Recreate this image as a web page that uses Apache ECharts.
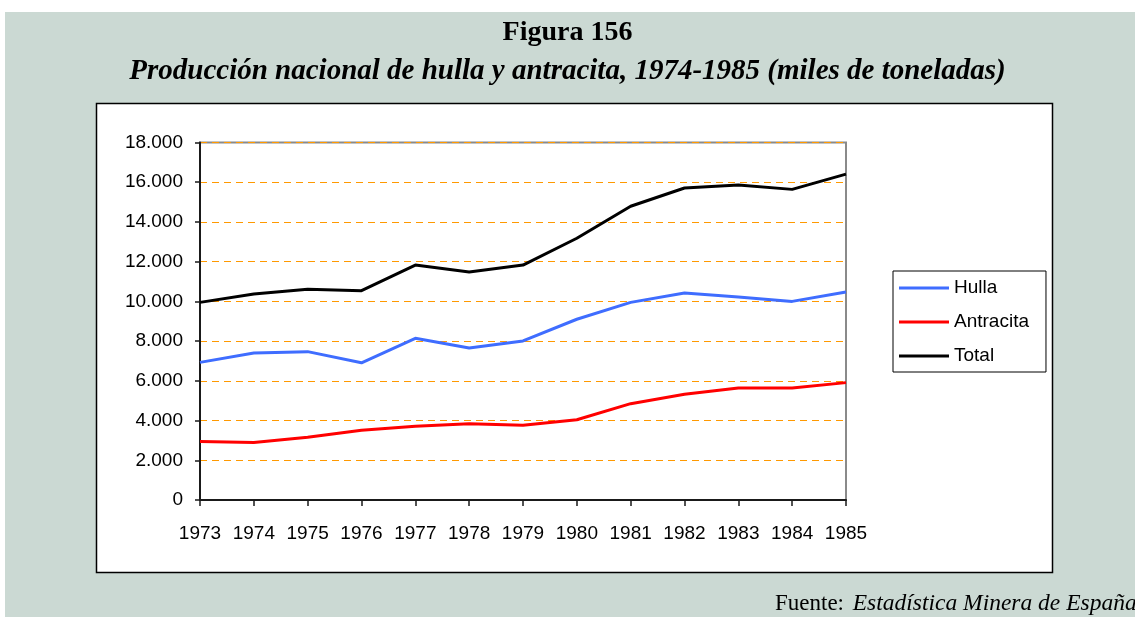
<!DOCTYPE html>
<html>
<head>
<meta charset="utf-8">
<script src="https://cdn.jsdelivr.net/npm/echarts@6/dist/echarts.min.js"></script>
<style>
  html, body { margin: 0; padding: 0; background: #fff; }
  #chart { width: 1135px; height: 617px; }
</style>
</head>
<body>
<div id="chart"></div>
<script>
// datos
var years = ['1973', '1974', '1975', '1976', '1977', '1978', '1979', '1980', '1981', '1982', '1983', '1984', '1985'];
var hulla = [6930, 7400, 7470, 6910, 8140, 7650, 8010, 9100, 9950, 10420, 10220, 10000, 10470];
var antracita = [2950, 2890, 3160, 3510, 3710, 3840, 3760, 4040, 4850, 5320, 5640, 5640, 5910];
var total = [9950, 10370, 10610, 10540, 11830, 11480, 11830, 13180, 14790, 15710, 15860, 15640, 16410];

var chart = echarts.init(document.getElementById('chart'));

function miles(v) {
    return String(v).replace(/\B(?=(\d{3})+(?!\d))/g, '.');
}

var option = {
    backgroundColor: '#fff',
    animation: false,
    graphic: [
        {
            type: 'rect', z: -10,
            shape: { x: 5, y: 12, width: 1130, height: 605 },
            style: { fill: '#cbd9d3' }
        },
        {
            type: 'rect', z: -9,
            shape: { x: 96.5, y: 103.5, width: 956, height: 469 },
            style: { fill: '#fff', stroke: '#000', lineWidth: 1.5 }
        },
        {
            type: 'text', left: 775, top: 592,
            style: {
                text: '{n|Fuente: }{i|Estadística Minera de España}',
                rich: {
                    n: { fontFamily: 'Liberation Serif', fontSize: 23, lineHeight: 23, fill: '#000' },
                    i: { fontFamily: 'Liberation Serif', fontStyle: 'italic', fontSize: 23.5, lineHeight: 23, fill: '#000', padding: [0, 0, 0, 3] }
                }
            }
        }
    ],
    title: [{
        text: 'Figura 156',
        left: 'center',
        top: 14,
        textStyle: { fontFamily: 'Liberation Serif', fontWeight: 'bold', fontSize: 28, color: '#000' }
    }, {
        text: 'Producción nacional de hulla y antracita, 1974-1985 (miles de toneladas)',
        left: 'center',
        top: 52,
        textStyle: { fontFamily: 'Liberation Serif', fontWeight: 'bold', fontStyle: 'italic', fontSize: 29, color: '#000' }
    }],
    legend: {
        orient: 'vertical',
        left: 893,
        top: 271,
        padding: [7, 17, 6, 6],
        backgroundColor: '#fff',
        borderColor: '#000',
        borderWidth: 1,
        icon: 'rect',
        itemWidth: 50,
        itemHeight: 3,
        itemGap: 14,
        textStyle: { fontFamily: 'Liberation Sans', fontSize: 19, lineHeight: 20, color: '#000' },
        data: ['Hulla', 'Antracita', 'Total']
    },
    grid: {
        left: 200,
        right: 289,
        top: 142.5,
        bottom: 117,
        show: true,
        backgroundColor: '#fff',
        borderColor: '#8a8a8a',
        borderWidth: 2
    },
    xAxis: {
        type: 'category',
        boundaryGap: false,
        data: years,
        axisLine: { lineStyle: { color: '#1a1a1a', width: 2 } },
        axisTick: { show: true, inside: false, length: 6, interval: 0, lineStyle: { color: '#1a1a1a', width: 1.5 } },
        axisLabel: { fontFamily: 'Liberation Sans', fontSize: 19, color: '#000', margin: 24, interval: 0, hideOverlap: false },
        splitLine: { show: false }
    },
    yAxis: {
        type: 'value',
        min: 0,
        max: 18000,
        interval: 2000,
        axisLine: { show: true, lineStyle: { color: '#1a1a1a', width: 2 } },
        axisTick: { show: true, inside: false, length: 5, lineStyle: { color: '#1a1a1a', width: 1.5 } },
        axisLabel: { fontFamily: 'Liberation Sans', fontSize: 19, color: '#000', margin: 17, formatter: miles },
        splitLine: { show: true, lineStyle: { color: '#ff9900', width: 1, type: [7, 5] } }
    },
    series: [{
        name: 'Hulla',
        type: 'line',
        data: hulla,
        showSymbol: false,
        symbol: 'none',
        color: '#3f6dff',
        lineStyle: { color: '#3f6dff', width: 3 }
    }, {
        name: 'Antracita',
        type: 'line',
        data: antracita,
        showSymbol: false,
        symbol: 'none',
        color: '#ff0000',
        lineStyle: { color: '#ff0000', width: 3 }
    }, {
        name: 'Total',
        type: 'line',
        data: total,
        showSymbol: false,
        symbol: 'none',
        color: '#000',
        lineStyle: { color: '#000', width: 3 }
    }]
};
chart.setOption(option);
</script>
</body>
</html>
